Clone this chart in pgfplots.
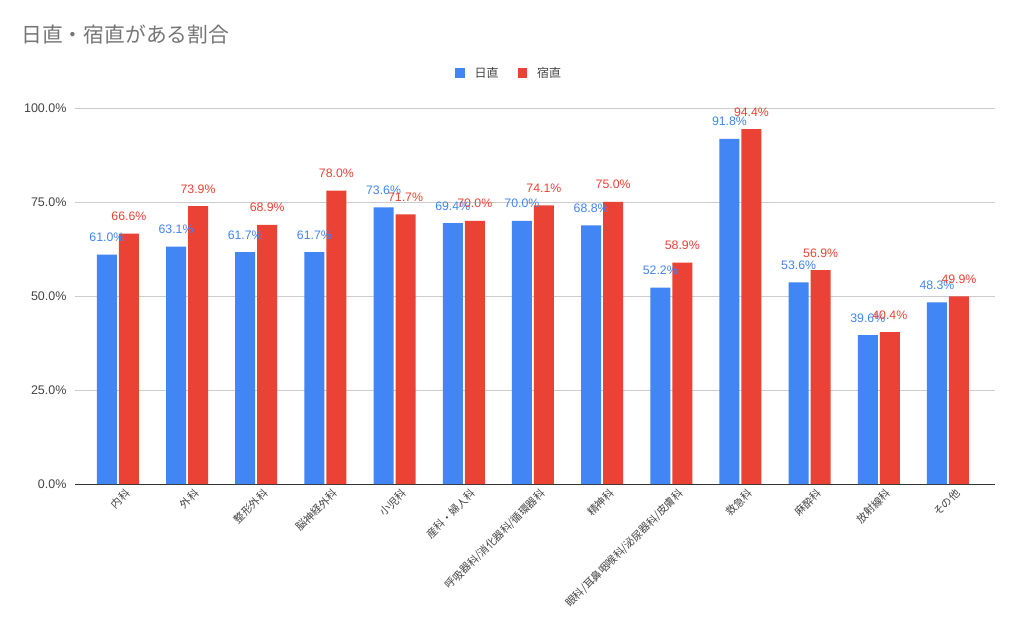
\documentclass[border=0pt]{standalone}
\usepackage{fontspec}
\setmainfont{Liberation Sans}
\newfontfamily\cjk{Noto Sans CJK JP}
\usepackage{pgfplots}
\pgfplotsset{compat=1.18}
\definecolor{cblue}{HTML}{4285F4}
\definecolor{cred}{HTML}{EA4335}
\definecolor{ctitle}{HTML}{757575}
\definecolor{ctick}{HTML}{444444}
\definecolor{cgrid}{HTML}{CCCCCC}
\definecolor{caxis}{HTML}{333333}
\begin{document}
\begin{tikzpicture}[x=1pt,y=1pt]
\useasboundingbox[fill=white] (0,0) rectangle (1024,619);
\node[anchor=west, text=ctitle, font=\cjk\fontsize{20.8}{24}\selectfont, inner sep=0pt] at (21,584) {日直・宿直がある割合};
\begin{axis}[
  at={(75pt,135pt)}, anchor=south west,
  scale only axis, width=920pt, height=376pt,
  xmin=-0.62, xmax=12.68, ymin=0, ymax=100,
  ybar, bar width=20pt,
  axis x line*=bottom,
  x axis line style={draw=caxis, line width=1pt},
  y axis line style={draw=none},
  ymajorgrids, grid style={draw=cgrid, line width=0.8pt},
  major tick length=0pt,
  ytick={0,25,50,75,100},
  yticklabel={\pgfmathprintnumber[fixed,fixed zerofill,precision=1]{\tick}\%},
  /pgf/number format/assume math mode=true,
  yticklabel style={font=\fontsize{12.5}{14}\selectfont, text=ctick, xshift=-5pt},
  xtick={0,...,12},
  xticklabels={内科,外科,整形外科,脳神経外科,小児科,産科・婦人科,呼吸器科/消化器科/循環器科,精神科,眼科/耳鼻咽喉科/泌尿器科/皮膚科,救急科,麻酔科,放射線科,その他},
  xticklabel style={rotate=45, anchor=north east, font=\cjk\fontsize{10.6}{12}\selectfont, text=ctick, inner sep=1pt, xshift=3pt, yshift=-6pt},
  nodes near coords={\pgfmathprintnumber[fixed,fixed zerofill,precision=1]{\pgfplotspointmeta}\%},
  legend style={at={(0.472,1)}, anchor=center, yshift=35pt, draw=none, fill=none, font=\cjk\fontsize{12}{14}\selectfont, text=ctick,
    /tikz/every odd column/.append style={column sep=8pt},
    /tikz/every even column/.append style={column sep=17pt}},
  legend columns=2,
  clip=false,
]
\addplot[fill=cblue, draw=none, bar shift=-11pt,
  every node near coord/.append style={font=\fontsize{12.3}{14}\selectfont, text=cblue, anchor=base, inner sep=0pt, yshift=13pt},
  legend image code/.code={\fill[cblue] (0pt,-5pt) rectangle (9.5pt,5pt);}]
coordinates {(0,61.0) (1,63.1) (2,61.7) (3,61.7) (4,73.6) (5,69.4) (6,70.0) (7,68.8) (8,52.2) (9,91.8) (10,53.6) (11,39.6) (12,48.3)};
\addplot[fill=cred, draw=none, bar shift=11pt,
  every node near coord/.append style={font=\fontsize{12.3}{14}\selectfont, text=cred, anchor=base, inner sep=0pt, yshift=13pt},
  legend image code/.code={\fill[cred] (0pt,-5pt) rectangle (9.5pt,5pt);}]
coordinates {(0,66.6) (1,73.9) (2,68.9) (3,78.0) (4,71.7) (5,70.0) (6,74.1) (7,75.0) (8,58.9) (9,94.4) (10,56.9) (11,40.4) (12,49.9)};
\legend{日直,宿直}
\end{axis}
\end{tikzpicture}
\end{document}
